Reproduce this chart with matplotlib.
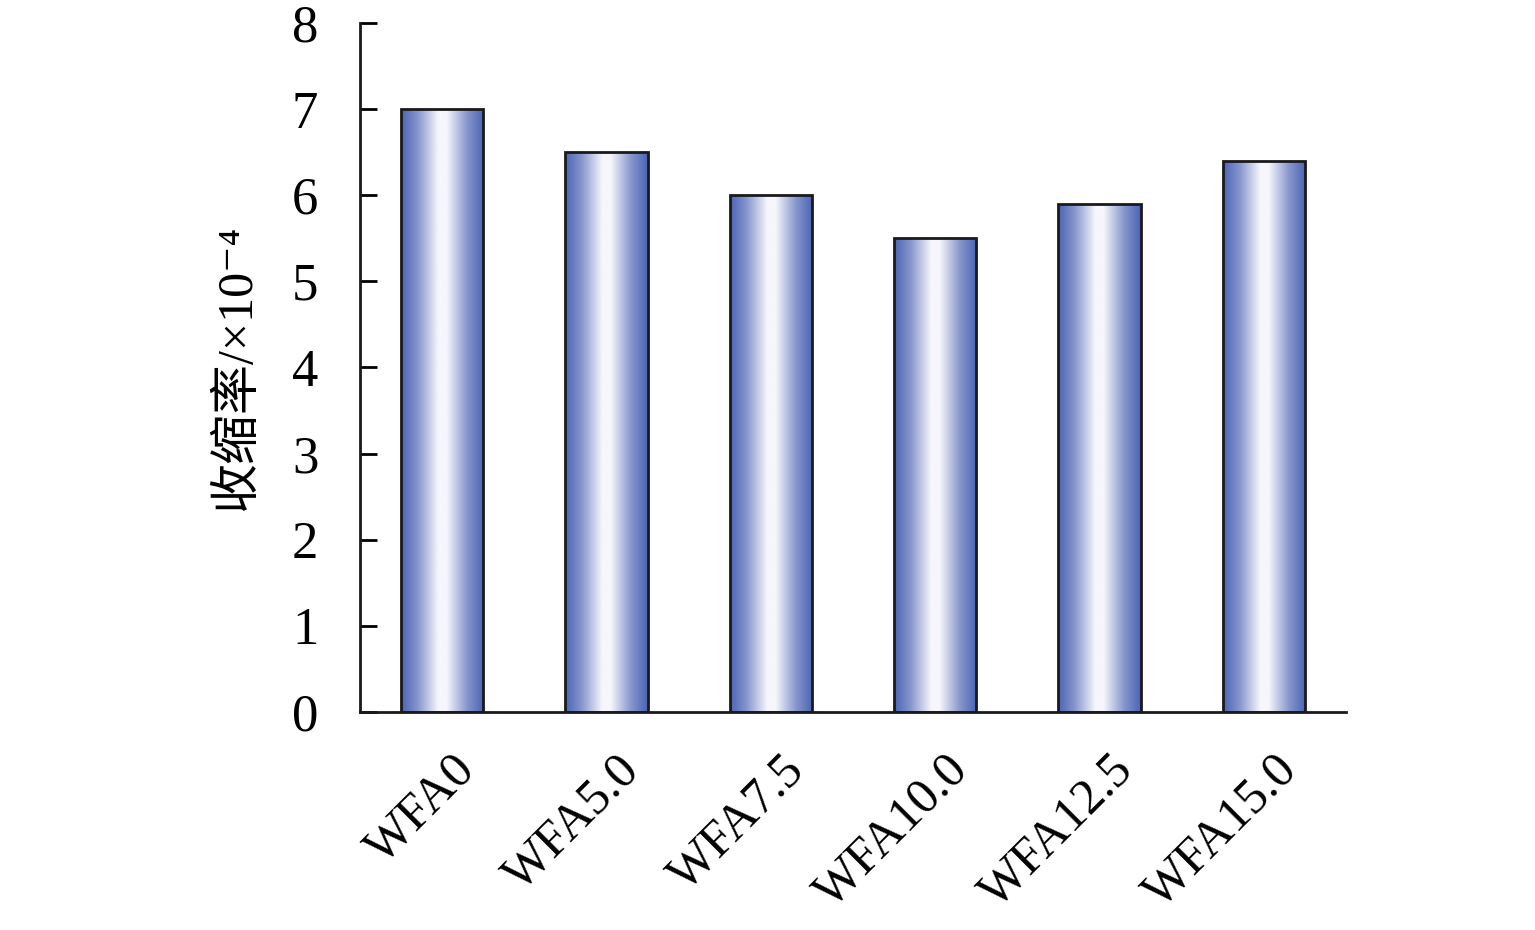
import numpy as np
import matplotlib
matplotlib.use("Agg")
import matplotlib.pyplot as plt
import matplotlib.transforms as mtransforms
from matplotlib.colors import LinearSegmentedColormap

# data
categories = ["WFA0", "WFA5.0", "WFA7.5", "WFA10.0", "WFA12.5", "WFA15.0"]
shrinkage = [7.0, 6.5, 6.0, 5.5, 5.9, 6.4]

plt.rcParams['font.family'] = ['Liberation Serif', 'Noto Sans CJK SC', 'DejaVu Serif']

fig = plt.figure(figsize=(15.35, 9.3), dpi=100)
ax = fig.add_axes([0.2345, 0.2344, 0.6424, 0.7409])

# blue-white-blue horizontal gradient
cmap = LinearSegmentedColormap.from_list(
    "bw", [(0.0, "#4b63b4"), (0.2, "#8695cc"), (0.45, "#f6f6fc"),
           (0.55, "#f6f6fc"), (0.8, "#8695cc"), (1.0, "#4b63b4")])
grad = np.linspace(0, 1, 256).reshape(1, -1)

x = np.arange(len(categories))
bars = ax.bar(x, shrinkage, width=0.5, facecolor="none",
              edgecolor="#1a1a1a", linewidth=2, zorder=3)
for b in bars:
    x0, y0 = b.get_x(), b.get_y()
    im = ax.imshow(grad, cmap=cmap, aspect="auto", zorder=2,
                   extent=[x0, x0 + b.get_width(), y0, y0 + b.get_height()])
    im.set_clip_path(b)

ax.set_xlim(-0.5, len(categories) - 0.5)
ax.set_ylim(0, 8)
ax.set_yticks(range(0, 9))
ax.set_xticks(x)
ax.set_xticklabels(categories, rotation=45, ha="right",
                   rotation_mode="anchor", fontsize=36)
ax.tick_params(axis="x", length=0, pad=25)
ax.tick_params(axis="y", direction="in", length=12, width=2,
               labelsize=38, pad=30)

# nudge rotated labels a little to the right
shift = mtransforms.ScaledTranslation(10 / 100, 0, fig.dpi_scale_trans)
for lab in ax.get_xticklabels():
    lab.set_transform(lab.get_transform() + shift)

for s in ["top", "right"]:
    ax.spines[s].set_visible(False)
for s in ["left", "bottom"]:
    ax.spines[s].set_linewidth(2)
    ax.spines[s].set_color("#1a1a1a")

ax.set_ylabel("收缩率/×10⁻⁴", fontsize=36, labelpad=22)

fig.savefig("out.png", dpi=100)
